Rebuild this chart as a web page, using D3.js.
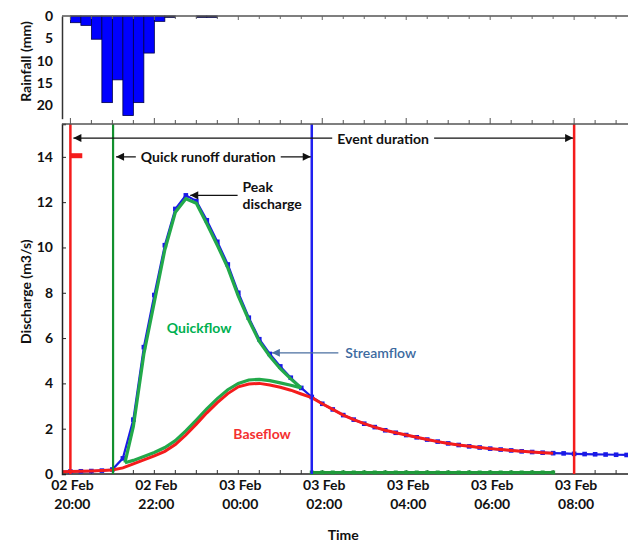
<!doctype html>
<html>
<head>
<meta charset="utf-8">
<style>
  body { margin: 0; background: #fff; }
  svg text { font-family: Lato, "Open Sans", sans-serif; font-weight: bold; fill: #111; }
</style>
<script src="https://cdn.jsdelivr.net/npm/d3@7"></script>
</head>
<body>
<svg id="chart" width="628" height="542"></svg>
<script>
var parse = d3.timeParse("%d %b %H:%M");

// rainfall, 15 min totals (mm)
var rainTimes = ["02 Feb 20:00","02 Feb 20:15","02 Feb 20:30","02 Feb 20:45","02 Feb 21:00","02 Feb 21:15",
  "02 Feb 21:30","02 Feb 21:45","02 Feb 22:00","02 Feb 22:15","02 Feb 23:00","02 Feb 23:15"];
var rainValues = [1.5, 2.1, 5.2, 19.4, 14.3, 22.3, 19.4, 8.3, 1.2, 0.3, 0.3, 0.3];

// streamflow (m3/s), 15 min steps
var flowTimes = ["02 Feb 19:45","02 Feb 20:00","02 Feb 20:15","02 Feb 20:30","02 Feb 20:45","02 Feb 21:00",
  "02 Feb 21:15","02 Feb 21:30","02 Feb 21:45","02 Feb 22:00","02 Feb 22:15","02 Feb 22:30","02 Feb 22:45",
  "02 Feb 23:00","02 Feb 23:15","02 Feb 23:30","02 Feb 23:45","03 Feb 00:00","03 Feb 00:15","03 Feb 00:30",
  "03 Feb 00:45","03 Feb 01:00","03 Feb 01:15","03 Feb 01:30","03 Feb 01:45","03 Feb 02:00","03 Feb 02:15",
  "03 Feb 02:30","03 Feb 02:45","03 Feb 03:00","03 Feb 03:15","03 Feb 03:30","03 Feb 03:45","03 Feb 04:00",
  "03 Feb 04:15","03 Feb 04:30","03 Feb 04:45","03 Feb 05:00","03 Feb 05:15","03 Feb 05:30","03 Feb 05:45",
  "03 Feb 06:00","03 Feb 06:15","03 Feb 06:30","03 Feb 06:45","03 Feb 07:00","03 Feb 07:15","03 Feb 07:30",
  "03 Feb 07:45","03 Feb 08:00","03 Feb 08:15","03 Feb 08:30","03 Feb 08:45","03 Feb 09:00","03 Feb 09:15"];
var streamflow = [0.10, 0.11, 0.12, 0.13, 0.15, 0.20, 0.69, 2.4, 5.6, 7.9, 10.1, 11.7, 12.3,
  12.05, 11.2, 10.25, 9.25, 8.0, 6.9, 5.95, 5.3, 4.75, 4.25, 3.8, 3.4, 3.1, 2.85,
  2.6, 2.4, 2.22, 2.07, 1.93, 1.82, 1.72, 1.62, 1.52, 1.43, 1.35, 1.28, 1.22, 1.17,
  1.12, 1.08, 1.04, 1.0, 0.97, 0.94, 0.92, 0.91, 0.89, 0.88, 0.87, 0.86, 0.85, 0.84];
// baseflow, same steps up to 07:30
var baseflow = [0.10, 0.11, 0.12, 0.13, 0.15, 0.18, 0.27, 0.45, 0.62, 0.8, 1.0, 1.3, 1.72,
  2.2, 2.7, 3.15, 3.55, 3.85, 3.97, 4.0, 3.93, 3.83, 3.7, 3.53, 3.37, 3.1, 2.85,
  2.6, 2.4, 2.22, 2.07, 1.93, 1.82, 1.72, 1.62, 1.52, 1.43, 1.35, 1.28, 1.22, 1.17,
  1.12, 1.08, 1.04, 1.0, 0.97, 0.94, 0.92];

// quickflow outline
var quickTimes = ["02 Feb 21:18","02 Feb 21:30","02 Feb 21:45","02 Feb 22:00","02 Feb 22:15","02 Feb 22:30",
  "02 Feb 22:45","02 Feb 23:00","02 Feb 23:15","02 Feb 23:30","02 Feb 23:45","03 Feb 00:00","03 Feb 00:15",
  "03 Feb 00:30","03 Feb 00:45","03 Feb 01:00","03 Feb 01:15","03 Feb 01:30"];
var quickTop = [0.5, 2.1, 5.3, 7.6, 9.9, 11.55, 12.15, 11.95, 11.05, 10.1, 9.1, 7.85, 6.8, 5.85, 5.2, 4.65, 4.2, 3.8];
var quickBottom = [0.5, 0.6, 0.77, 0.95, 1.17, 1.47, 1.9, 2.38, 2.88, 3.33, 3.72, 4.0, 4.15, 4.18, 4.12, 4.02, 3.92, 3.8];
// quickflow after the quick runoff ends (01:45 - 07:30)
var quickTail = [0,0,0,0,0,0,0,0,0,0,0,0,0,0,0,0,0,0,0,0,0,0,0,0];

var rainTicks = [0, 5, 10, 15, 20];
var flowTicks = [0, 2, 4, 6, 8, 10, 12, 14];
var timeTicks = ["02 Feb 20:00","02 Feb 22:00","03 Feb 00:00","03 Feb 02:00","03 Feb 04:00","03 Feb 06:00","03 Feb 08:00"];

var eventStart = "02 Feb 20:00", eventEnd = "03 Feb 08:00";
var quickStart = "02 Feb 21:01", quickEnd = "03 Feb 01:45";
var peakTime = "02 Feb 22:47", peakValue = 12.3;

var svg = d3.select("#chart");
var L = 62, R = 628;

var x = d3.scaleTime()
  .domain([parse("02 Feb 19:48"), parse("03 Feb 09:17")])
  .range([L, R]);
var yR = d3.scaleLinear().domain([0, 23]).range([16, 118.7]);
var yQ = d3.scaleLinear().domain([0, 15.45]).range([474, 124]);

var halfHours = d3.timeMinute.every(30).range(parse("02 Feb 20:00"), parse("03 Feb 09:17"));
var isMajor = function(d){ return d.getHours() % 2 === 0 && d.getMinutes() === 0; };

svg.append("defs").append("clipPath").attr("id", "plot")
  .append("rect").attr("x", L).attr("y", 124).attr("width", R - L).attr("height", 352);

function marker(id, color) {
  svg.select("defs").append("marker")
    .attr("id", id).attr("viewBox", "0 0 10 10").attr("refX", 10).attr("refY", 5)
    .attr("markerWidth", 9).attr("markerHeight", 8).attr("markerUnits", "userSpaceOnUse")
    .attr("orient", "auto-start-reverse")
    .append("path").attr("d", "M0,0L10,5L0,10Z").attr("fill", color);
}
marker("arr", "#111");
marker("arrBlue", "#4a6fa0");

// ---------- rainfall panel ----------
var bw = x(parse("02 Feb 20:15")) - x(parse("02 Feb 20:00"));
svg.append("g").selectAll("rect")
  .data(rainTimes.map(function(t, i){ return { t: parse(t), v: rainValues[i] }; }))
  .enter().append("rect")
  .attr("x", function(d){ return x(d.t); })
  .attr("y", yR(0))
  .attr("width", bw)
  .attr("height", function(d){ return yR(d.v) - yR(0); })
  .attr("fill", function(d){ return d.v < 1 ? "#333" : "#0000ff"; })
  .attr("stroke", "#00004a").attr("stroke-width", 0.8);

var gr = svg.append("g").attr("transform", "translate(" + L + ",0)")
  .call(d3.axisLeft(yR).tickValues(rainTicks).tickSize(0).tickPadding(9));
gr.select(".domain").attr("stroke", "#333").attr("stroke-width", 1.5);
gr.selectAll("text").style("font-size", "14px");

svg.append("line").attr("x1", L).attr("x2", R).attr("y1", yR(0)).attr("y2", yR(0))
  .attr("stroke", "#555").attr("stroke-width", 1.5);
svg.append("g").selectAll("line").data(halfHours).enter().append("line")
  .attr("x1", function(d){ return x(d); }).attr("x2", function(d){ return x(d); })
  .attr("y1", yR(0)).attr("y2", function(d){ return yR(0) + (isMajor(d) ? 4 : 3); })
  .attr("stroke", "#666");

svg.append("text")
  .attr("transform", "translate(25," + yR(10.2) + ") rotate(-90)")
  .attr("text-anchor", "middle").attr("dominant-baseline", "central")
  .style("font-size", "14px").text("Rainfall (mm)");

// ---------- discharge panel ----------
// bottom axis line first so the zero quickflow line sits on top of it
svg.append("line").attr("x1", L).attr("x2", R).attr("y1", yQ(0)).attr("y2", yQ(0))
  .attr("stroke", "#222").attr("stroke-width", 1.5);
svg.append("g").selectAll("line").data(halfHours).enter().append("line")
  .attr("x1", function(d){ return x(d); }).attr("x2", function(d){ return x(d); })
  .attr("y1", yQ(0)).attr("y2", yQ(0) - 4)
  .attr("stroke", "#333");

var line = d3.line()
  .x(function(d){ return x(d.t); })
  .y(function(d){ return yQ(d.v); });

var flow = flowTimes.map(function(t, i){ return { t: parse(t), v: streamflow[i] }; });
var base = baseflow.map(function(t, i){ return { t: parse(flowTimes[i]), v: t }; });
var qTop = quickTimes.map(function(t, i){ return { t: parse(t), v: quickTop[i] }; });
var qBot = quickTimes.map(function(t, i){ return { t: parse(t), v: quickBottom[i] }; });
var qTail = quickTail.map(function(v, i){ return { t: parse(flowTimes[24 + i]), v: v }; });

var plot = svg.append("g").attr("clip-path", "url(#plot)");

function dots(data, color, s, dy) {
  plot.append("g").selectAll("rect").data(data).enter().append("rect")
    .attr("x", function(d){ return x(d.t) - s / 2; })
    .attr("y", function(d){ return yQ(d.v) - s / 2 - (dy || 0); })
    .attr("width", s).attr("height", s).attr("fill", color);
}

// streamflow
plot.append("path").datum(flow).attr("d", line)
  .attr("fill", "none").attr("stroke", "#1a1ae6").attr("stroke-width", 2.2);
dots(flow, "#1a1ae6", 4.6);

// quickflow
plot.append("path").datum(qTop).attr("d", line)
  .attr("fill", "none").attr("stroke", "#22a94a").attr("stroke-width", 3.2);
plot.append("path").datum(qBot).attr("d", line)
  .attr("fill", "none").attr("stroke", "#22a94a").attr("stroke-width", 3.2);
plot.append("path").datum(qTail).attr("d", line)
  .attr("transform", "translate(0,-1.5)")
  .attr("fill", "none").attr("stroke", "#1f9a3a").attr("stroke-width", 3);
dots(qTail, "#1f9a3a", 4, 1.5);

// baseflow
plot.append("path").datum(base).attr("d", line)
  .attr("fill", "none").attr("stroke", "#f41c1c").attr("stroke-width", 3);

// event lines
function vline(t, color, w) {
  plot.append("line").attr("x1", x(parse(t))).attr("x2", x(parse(t)))
    .attr("y1", yQ.range()[1]).attr("y2", yQ(0))
    .attr("stroke", color).attr("stroke-width", w);
}
vline(eventStart, "#f41c1c", 2.5);
vline(quickStart, "#12902e", 2.2);
vline(quickEnd, "#2020f0", 2.5);
vline(eventEnd, "#f41c1c", 2.5);
plot.append("line")
  .attr("x1", x(parse(eventStart))).attr("x2", x(parse("02 Feb 20:17")))
  .attr("y1", yQ(14.05)).attr("y2", yQ(14.05))
  .attr("stroke", "#f41c1c").attr("stroke-width", 5);

// y axis
var gy = svg.append("g").attr("transform", "translate(" + L + ",0)")
  .call(d3.axisLeft(yQ).tickValues(flowTicks).tickSize(-4).tickPadding(9));
gy.select(".domain").attr("stroke", "#222").attr("stroke-width", 1.5);
gy.selectAll(".tick line").attr("stroke", "#222");
gy.selectAll("text").style("font-size", "14px");

var yTop = yQ.range()[1];
svg.append("line").attr("x1", L).attr("x2", R).attr("y1", yTop).attr("y2", yTop)
  .attr("stroke", "#555").attr("stroke-width", 1.5);
svg.append("g").selectAll("line").data(halfHours).enter().append("line")
  .attr("x1", function(d){ return x(d); }).attr("x2", function(d){ return x(d); })
  .attr("y1", yTop).attr("y2", function(d){ return yTop - (isMajor(d) ? 6 : 4); })
  .attr("stroke", "#555");

var fmtDay = d3.timeFormat("%d %b"), fmtHour = d3.timeFormat("%H:%M");
var tl = svg.append("g").selectAll("text").data(timeTicks.map(parse)).enter().append("text")
  .attr("text-anchor", "middle").style("font-size", "14px")
  .attr("transform", function(d){ return "translate(" + (x(d) + 2) + "," + (yQ(0) + 16) + ")"; });
tl.append("tspan").attr("x", 0).attr("y", 0).text(function(d){ return fmtDay(d); });
tl.append("tspan").attr("x", 0).attr("y", 19).text(function(d){ return fmtHour(d); });

svg.append("text").attr("x", x(parse("03 Feb 02:30"))).attr("y", 540)
  .attr("text-anchor", "middle").style("font-size", "14px").text("Time");

svg.append("text")
  .attr("transform", "translate(25," + yQ(8.05) + ") rotate(-90)")
  .attr("text-anchor", "middle").attr("dominant-baseline", "central")
  .style("font-size", "14px").text("Discharge (m3/s)");

// ---------- annotations ----------
function spanArrow(t0, t1, v, label, tLabel) {
  var yy = yQ(v);
  svg.append("line").attr("x1", x(parse(t1)) - 1).attr("x2", x(parse(t0)) + 3)
    .attr("y1", yy).attr("y2", yy).attr("stroke", "#111").attr("stroke-width", 1.2)
    .attr("marker-start", "url(#arr)").attr("marker-end", "url(#arr)");
  var txt = svg.append("text").attr("x", x(parse(tLabel))).attr("y", yy)
    .attr("text-anchor", "middle").attr("dominant-baseline", "central")
    .style("font-size", "14px").text(label);
  var b = txt.node().getBBox();
  svg.insert("rect", function(){ return txt.node(); })
    .attr("x", b.x - 5).attr("y", b.y + 2).attr("width", b.width + 10).attr("height", b.height - 4)
    .attr("fill", "#fff");
}
spanArrow(eventStart, eventEnd, 14.83, "Event duration", "03 Feb 03:27");
spanArrow(quickStart, quickEnd, 14.0, "Quick runoff duration", "02 Feb 23:17");

// peak discharge
svg.append("line").attr("x1", x(parse("02 Feb 23:59"))).attr("x2", x(parse(peakTime)) + 3)
  .attr("y1", yQ(peakValue)).attr("y2", yQ(peakValue))
  .attr("stroke", "#111").attr("stroke-width", 1.2).attr("marker-end", "url(#arr)");
svg.append("text").attr("x", x(parse("03 Feb 00:06"))).attr("y", yQ(12.7))
  .attr("dominant-baseline", "central").style("font-size", "14px").text("Peak");
svg.append("text").attr("x", x(parse("03 Feb 00:06"))).attr("y", yQ(11.95))
  .attr("dominant-baseline", "central").style("font-size", "14px").text("discharge");

// streamflow label
svg.append("line").attr("x1", x(parse("03 Feb 02:23"))).attr("x2", x(parse("03 Feb 00:48")))
  .attr("y1", yQ(5.35)).attr("y2", yQ(5.35))
  .attr("stroke", "#4a6fa0").attr("stroke-width", 1.2).attr("marker-end", "url(#arrBlue)");
svg.append("text").attr("x", x(parse("03 Feb 02:33"))).attr("y", yQ(5.35))
  .attr("dominant-baseline", "central").style("font-size", "14px")
  .style("fill", "#3d6aa0").style("font-weight", "600").text("Streamflow");

svg.append("text").attr("x", x(parse("02 Feb 23:04"))).attr("y", yQ(6.45))
  .attr("text-anchor", "middle").attr("dominant-baseline", "central")
  .style("font-size", "14px").style("fill", "#00b050").text("Quickflow");
svg.append("text").attr("x", x(parse("03 Feb 00:34"))).attr("y", yQ(1.77))
  .attr("text-anchor", "middle").attr("dominant-baseline", "central")
  .style("font-size", "14px").style("fill", "#f43030").text("Baseflow");
</script>
</body>
</html>
